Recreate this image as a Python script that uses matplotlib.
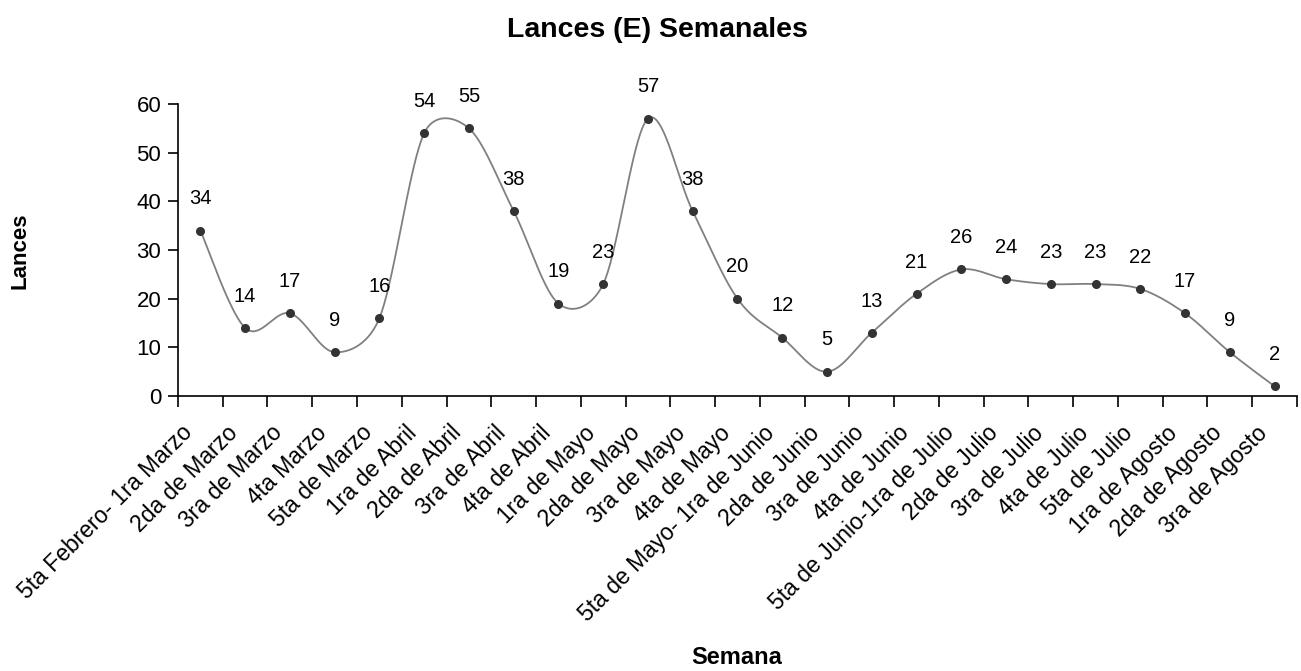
import numpy as np
import matplotlib
matplotlib.use("Agg")
import matplotlib.pyplot as plt
import matplotlib.transforms as mtransforms

plt.rcParams['font.family'] = ['Liberation Sans', 'DejaVu Sans']

semanas = [
    "5ta Febrero- 1ra Marzo", "2da de Marzo", "3ra de Marzo", "4ta Marzo",
    "5ta de Marzo", "1ra de Abril", "2da de Abril", "3ra de Abril",
    "4ta de Abril", "1ra de Mayo", "2da de Mayo", "3ra de Mayo",
    "4ta de Mayo", "5ta de Mayo- 1ra de Junio", "2da de Junio", "3ra de Junio",
    "4ta de Junio", "5ta de Junio-1ra de Julio", "2da de Julio", "3ra de Julio",
    "4ta de Julio", "5ta de Julio", "1ra de Agosto", "2da de Agosto",
    "3ra de Agosto",
]
lances = [34, 14, 17, 9, 16, 54, 55, 38, 19, 23, 57, 38, 20, 12, 5, 13,
          21, 26, 24, 23, 23, 22, 17, 9, 2]
y_ticks = [0, 10, 20, 30, 40, 50, 60]


def curva_suave(ax, x, y, n=40):
    # bezier por tramos, control a 1/6 limitado a medio tramo (en pixeles)
    pts = ax.transData.transform(np.column_stack([x, y]).astype(float))
    p = np.vstack([pts[:1], pts, pts[-1:]])
    t = np.linspace(0, 1, n)[:, None]
    out = []
    for i in range(1, len(p) - 2):
        p0, p3 = p[i], p[i + 1]
        d = np.hypot(*(p3 - p0))
        v1 = (p[i + 1] - p[i - 1]) / 6
        v2 = (p[i + 2] - p[i]) / 6
        for v in (v1, v2):
            lv = np.hypot(*v)
            if lv > d / 2:
                v *= (d / 2) / lv
        c1 = p0 + v1
        c2 = p3 - v2
        b = (1 - t) ** 3 * p0 + 3 * (1 - t) ** 2 * t * c1 + 3 * (1 - t) * t ** 2 * c2 + t ** 3 * p3
        out.append(b)
    curva = ax.transData.inverted().transform(np.vstack(out))
    return curva[:, 0], curva[:, 1]


pos = np.arange(len(semanas))

fig = plt.figure(figsize=(13.01, 6.71), dpi=100)
ax = fig.add_axes([0.1368, 0.4098, 0.8601, 0.4352])
ax.set_xlim(-0.5, len(semanas) - 0.5)
ax.set_ylim(0, 60)

sx, sy = curva_suave(ax, pos, lances)
ax.plot(sx, sy, color="#808080", lw=1.3, zorder=2)
ax.plot(pos, lances, "o", color="#333333", ms=5.5, zorder=3)

for xi, v in zip(pos, lances):
    ax.annotate(str(v), (xi, v), xytext=(0, 16), textcoords="offset points",
                ha="center", va="bottom", fontsize=14.5, color="black")

ax.set_yticks(y_ticks)
ax.tick_params(axis="y", labelsize=16, length=7, width=1.2, direction="out", pad=5)

# marcas entre categorias, etiquetas en el centro
ax.set_xticks(np.arange(-0.5, len(semanas), 1.0))
ax.set_xticklabels([])
ax.tick_params(axis="x", which="major", length=8, width=1.2, direction="out")
ax.set_xticks(pos, minor=True)
ax.set_xticklabels(semanas, minor=True, rotation=45, ha="right", va="center",
                   rotation_mode="anchor", fontsize=16.5)
ax.tick_params(axis="x", which="minor", length=0, pad=24)
corrido = mtransforms.ScaledTranslation(-0.11, 0, fig.dpi_scale_trans)
for lab in ax.get_xticklabels(minor=True):
    lab.set_transform(lab.get_transform() + corrido)

for s in ["top", "right"]:
    ax.spines[s].set_visible(False)
for s in ["left", "bottom"]:
    ax.spines[s].set_linewidth(1.2)

fig.text(0.505, 0.955, "Lances (E) Semanales", ha="center", va="center",
         fontsize=20.5, fontweight="bold")
fig.text(0.015, 0.627, "Lances", ha="center", va="center", rotation=90,
         fontsize=16, fontweight="bold")
fig.text(0.5665, 0.02, "Semana", ha="center", va="center",
         fontsize=17, fontweight="bold")

fig.savefig("out.png", dpi=100)
